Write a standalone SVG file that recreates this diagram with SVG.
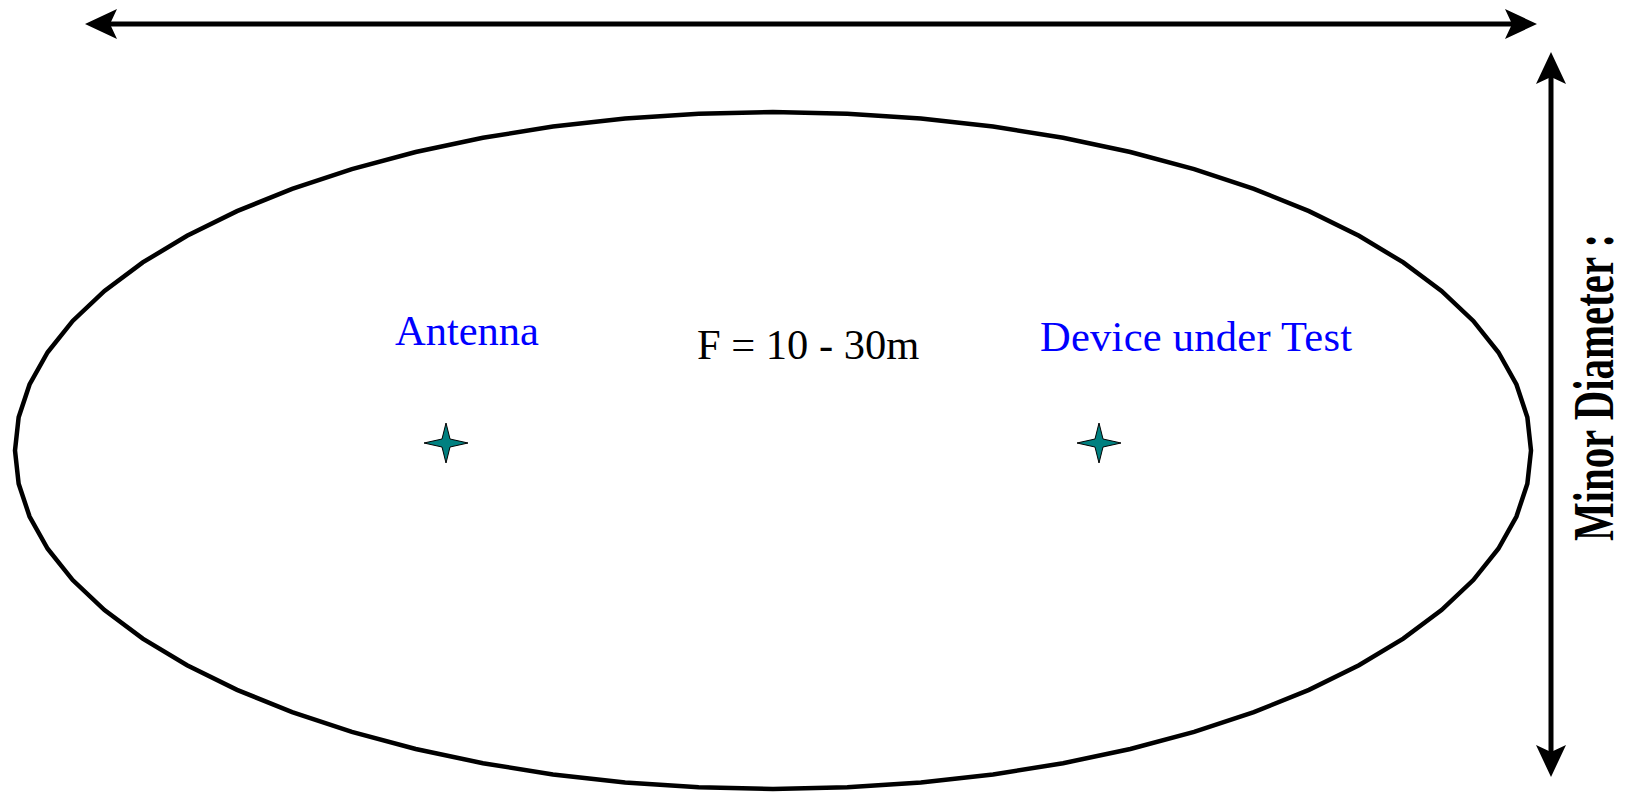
<svg xmlns="http://www.w3.org/2000/svg" width="1626" height="792" viewBox="0 0 1626 792">
<style>
.lbl{font-family:"Liberation Serif","Times New Roman",serif;font-size:42.5px}
.blue{fill:#0000FF}
.star{fill:#008080;stroke:#000;stroke-width:1}
.dim{stroke:#000;stroke-width:5;fill:none}
</style>
<defs>
<marker id="ah" viewBox="0 0 32 30" refX="12" refY="15" markerWidth="32" markerHeight="30" markerUnits="userSpaceOnUse" orient="auto-start-reverse">
<path d="M0,0 L32,15 L0,30 L7,15 Z" fill="#000"/>
</marker>
</defs>
<g id="area">
<polygon fill="none" stroke="#000" stroke-width="4.5" stroke-linejoin="miter" points="1531,450.5 1527.35,417.32 1516.44,384.46 1498.36,352.24 1473.3,320.96 1441.5,290.93 1403.25,262.44 1358.94,235.76 1308.99,211.14 1253.87,188.84 1194.12,169.05 1130.32,151.97 1063.07,137.77 993.03,126.58 920.88,118.5 847.3,113.63 773,112 698.7,113.63 625.12,118.5 552.97,126.58 482.93,137.77 415.68,151.97 351.88,169.05 292.13,188.84 237.01,211.14 187.06,235.76 142.75,262.44 104.5,290.93 72.7,320.96 47.64,352.24 29.56,384.46 18.65,417.32 15,450.5 18.65,483.68 29.56,516.54 47.64,548.76 72.7,580.04 104.5,610.07 142.75,638.56 187.06,665.24 237.01,689.86 292.13,712.16 351.88,731.95 415.68,749.03 482.93,763.23 552.97,774.42 625.12,782.5 698.7,787.37 773,789 847.3,787.37 920.88,782.5 993.03,774.42 1063.07,763.23 1130.32,749.03 1194.12,731.95 1253.87,712.16 1308.99,689.86 1358.94,665.24 1403.25,638.56 1441.5,610.07 1473.3,580.04 1498.36,548.76 1516.44,516.54 1527.35,483.68"/>
</g>
<g id="connectors">
<line class="dim" x1="105" y1="24" x2="1517" y2="24" marker-start="url(#ah)" marker-end="url(#ah)"/>
<line class="dim" x1="1551" y1="72" x2="1551" y2="757" marker-start="url(#ah)" marker-end="url(#ah)"/>
</g>
<g id="antenna">
<path class="star" d="M446,423 L450,439 L468,443 L450,447 L446,463 L442,447 L424,443 L442,439 Z"/>
<text class="lbl blue" x="395" y="345">Antenna</text>
</g>
<g id="dut">
<path class="star" d="M1099,423 L1103,439 L1121,443 L1103,447 L1099,463 L1095,447 L1077,443 L1095,439 Z"/>
<text class="lbl blue" x="1040" y="351" textLength="312" lengthAdjust="spacing">Device under Test</text>
</g>
<g id="distance">
<text class="lbl" x="697" y="359">F = 10 - 30m</text>
</g>
<g id="minor-diameter">
<text class="lbl" font-weight="bold" transform="translate(1613,541) rotate(-90) scale(0.73,1)" style="font-size:56px">Minor Diameter :</text>
</g>
</svg>
